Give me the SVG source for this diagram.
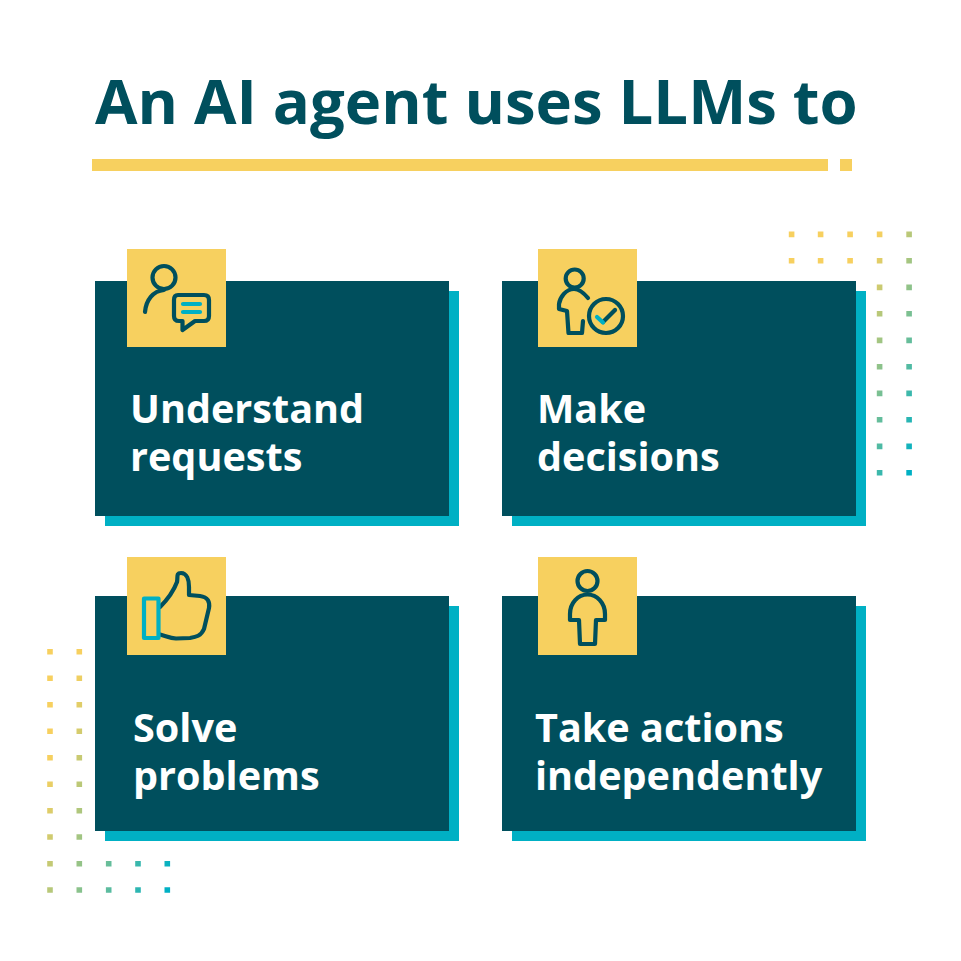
<svg xmlns="http://www.w3.org/2000/svg" width="961" height="961" viewBox="0 0 961 961">
<style>
.bar{fill:#f7d05f}
.card{fill:#004f5d}
.shadow{fill:#00b0c4}
.box{fill:#f7d05f}
.ic{fill:none;stroke:#004f5d;stroke-width:4.2;stroke-linecap:round;stroke-linejoin:round}
.ict{fill:none;stroke:#00b0c4;stroke-width:4.2;stroke-linecap:round;stroke-linejoin:round}
text{font-family:"Open Sans","Noto Sans","Liberation Sans",sans-serif;font-weight:700}
.title{font-size:61.600px;fill:#004f5d}
.lab{font-size:39.600px;fill:#fff}
</style>
<defs>
<linearGradient id="gr" gradientUnits="userSpaceOnUse" x1="879" y1="234" x2="984" y2="274"><stop offset="0" stop-color="#f7d05f"/><stop offset="1" stop-color="#00b0c4"/></linearGradient>
<linearGradient id="gl" gradientUnits="userSpaceOnUse" x1="50" y1="757" x2="193" y2="800"><stop offset="0" stop-color="#f7d05f"/><stop offset="1" stop-color="#00b0c4"/></linearGradient>
</defs>
<rect width="961" height="961" fill="#fff"/>
<g id="title">
<text class="title" x="95" y="124">An AI agent uses LLMs to</text>
<rect class="bar" x="92" y="159" width="736" height="12"/>
<rect class="bar" x="840" y="159" width="12" height="12"/>
</g>
<g id="dots-right" fill="url(#gr)">
<path d="M788.800 231.600h5.600v5.600h-5.600zM817.800 231.600h5.600v5.600h-5.600zM847.300 231.600h5.600v5.600h-5.600zM876.800 231.600h5.600v5.600h-5.600zM906.300 231.600h5.600v5.600h-5.600zM788.800 257.900h5.600v5.600h-5.600zM817.800 257.900h5.600v5.600h-5.600zM847.300 257.900h5.600v5.600h-5.600zM876.800 257.900h5.600v5.600h-5.600zM906.300 257.900h5.600v5.600h-5.600zM876.800 284.600h5.600v5.600h-5.600zM906.300 284.600h5.600v5.600h-5.600zM876.800 310.900h5.600v5.600h-5.600zM906.300 310.900h5.600v5.600h-5.600zM876.800 337.600h5.600v5.600h-5.600zM906.300 337.600h5.600v5.600h-5.600zM876.800 363.900h5.600v5.600h-5.600zM906.300 363.900h5.600v5.600h-5.600zM876.800 390.600h5.600v5.600h-5.600zM906.300 390.600h5.600v5.600h-5.600zM876.800 416.900h5.600v5.600h-5.600zM906.300 416.900h5.600v5.600h-5.600zM876.800 443.600h5.600v5.600h-5.600zM906.300 443.600h5.600v5.600h-5.600zM876.800 469.900h5.600v5.600h-5.600zM906.300 469.900h5.600v5.600h-5.600z"/>
</g>
<g id="dots-left" fill="url(#gl)">
<path d="M47.200 648.900h5.600v5.600h-5.600zM76.500 648.900h5.600v5.600h-5.600zM47.200 675.500h5.600v5.600h-5.600zM76.500 675.500h5.600v5.600h-5.600zM47.200 701.900h5.600v5.600h-5.600zM76.500 701.900h5.600v5.600h-5.600zM47.200 728.500h5.600v5.600h-5.600zM76.500 728.500h5.600v5.600h-5.600zM47.200 754.900h5.600v5.600h-5.600zM76.500 754.900h5.600v5.600h-5.600zM47.200 781.500h5.600v5.600h-5.600zM76.500 781.500h5.600v5.600h-5.600zM47.200 807.900h5.600v5.600h-5.600zM76.500 807.900h5.600v5.600h-5.600zM47.200 834.200h5.600v5.600h-5.600zM76.500 834.200h5.600v5.600h-5.600zM47.200 860.900h5.600v5.600h-5.600zM76.500 860.900h5.600v5.600h-5.600zM105.900 860.900h5.600v5.600h-5.600zM135.200 860.900h5.600v5.600h-5.600zM164.500 860.900h5.600v5.600h-5.600zM47.200 887.200h5.600v5.600h-5.600zM76.500 887.200h5.600v5.600h-5.600zM105.900 887.200h5.600v5.600h-5.600zM135.200 887.200h5.600v5.600h-5.600zM164.500 887.200h5.600v5.600h-5.600z"/>
</g>
<g id="connectors"></g>
<g id="node-understand">
<rect class="shadow" x="105" y="291" width="354" height="235"/>
<rect class="card" x="95" y="281" width="354" height="235"/>
<rect class="box" x="127" y="249" width="99" height="98"/>
<circle class="ic" cx="164" cy="277.500" r="11.500"/>
<path class="ic" d="M145 312C146 300 153 291 164 290"/>
<path class="ic" d="M178 295H204Q209 295 209 300V316Q209 321 204 321H195L182.500 330V321H179Q174 321 174 316V300Q174 295 178 295Z"/>
<path class="ict" d="M183 304H200M183 312H200"/>
<text class="lab"><tspan x="130" y="423">Understand</tspan><tspan x="130" y="471">requests</tspan></text>
</g>
<g id="node-decisions">
<rect class="shadow" x="512" y="291" width="354" height="235"/>
<rect class="card" x="502" y="281" width="354" height="235"/>
<rect class="box" x="538" y="249" width="99" height="98"/>
<circle class="ic" cx="574.700" cy="278.500" r="9"/>
<path class="ic" d="M588 298C583 292 578 289 574 289C566 289 560 297 559 304L559 309L567 311L568.500 333H582L583 321"/>
<circle class="ic" cx="606" cy="316" r="17"/>
<path class="ic" d="M603 322L615 310"/>
<path class="ict" d="M597 317L603 322.500"/>
<text class="lab"><tspan x="537" y="423">Make</tspan><tspan x="537" y="471">decisions</tspan></text>
</g>
<g id="node-problems">
<rect class="shadow" x="105" y="606" width="354" height="235"/>
<rect class="card" x="95" y="596" width="354" height="235"/>
<rect class="box" x="127" y="557" width="99" height="98"/>
<path class="ic" d="M160 607C167 600 174 590 177 582C178 577 176 573 181 573C187 573 189 580 189 587L189 595L200 596C208 597 210 602 209 608L204 629C201 636 196 637 190 638L176 638.500C170 638 166 636 160 634.500"/>
<rect class="ict" x="144" y="598.500" width="14.500" height="39.500"/>
<text class="lab"><tspan x="133" y="742">Solve</tspan><tspan x="133" y="790">problems</tspan></text>
</g>
<g id="node-independently">
<rect class="shadow" x="512" y="606" width="354" height="235"/>
<rect class="card" x="502" y="596" width="354" height="235"/>
<rect class="box" x="538" y="557" width="99" height="98"/>
<circle class="ic" cx="587.500" cy="581" r="10"/>
<path class="ic" d="M587.500 594.500C578 594.500 570 603 570 614V620H579L580 644H595L596 620H605V614C605 603 597 594.500 587.500 594.500Z"/>
<text class="lab"><tspan x="535" y="742">Take actions</tspan><tspan x="535" y="790">independently</tspan></text>
</g>
</svg>
